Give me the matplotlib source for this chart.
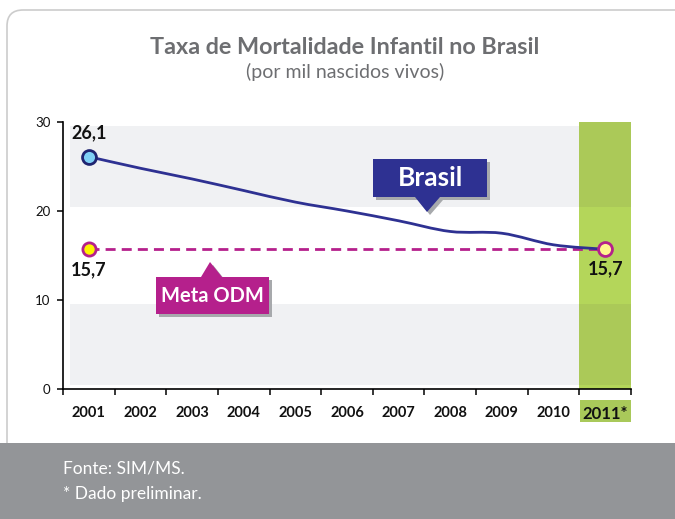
import matplotlib
matplotlib.use("Agg")
import matplotlib.pyplot as plt
from matplotlib.patches import Polygon, Rectangle, FancyBboxPatch, PathPatch
from matplotlib.path import Path
from matplotlib.transforms import Affine2D

# === Data ===
years = ["2001", "2002", "2003", "2004", "2005", "2006", "2007", "2008", "2009", "2010", "2011*"]
brasil = [26.1, 24.8, 23.6, 22.3, 21.0, 20.0, 18.9, 17.7, 17.5, 16.2, 15.7]
meta_odm = 15.7
y_ticks = [0, 10, 20, 30]

NAVY = "#2e3192"
MAGENTA = "#b5208c"
GREEN = "#b4d65a"
GREEN_DARK = "#abc958"
BAND = "#f0f1f3"

plt.rcParams["font.family"] = ["Lato", "DejaVu Sans"]

W, H = 675, 519
fig = plt.figure(figsize=(W / 100, H / 100), dpi=100)
fig.patch.set_facecolor("white")
# pixel coordinates (origin top-left) for decorations
px = Affine2D().scale(1 / W, -1 / H).translate(0, 1) + fig.transFigure

# === Frame and footer ===
frame = FancyBboxPatch((7, 10), 700, 460, boxstyle="round,pad=0,rounding_size=16",
                       transform=px, facecolor="white", edgecolor="#cccccc", lw=1.2, zorder=-2)
fig.add_artist(frame)
fig.add_artist(Rectangle((0, 443), W, 80, transform=px, facecolor="#939598",
                         edgecolor="none", zorder=-1))
fig.text(63 / W, 1 - 468 / H, "Fonte: SIM/MS.", color="white", fontsize=12.5, va="center")
fig.text(63 / W, 1 - 494 / H, "* Dado preliminar.", color="white", fontsize=12.5, va="center")

# === Title ===
fig.text(345 / W, 1 - 47 / H, "Taxa de Mortalidade Infantil no Brasil", ha="center", va="center",
         fontsize=16.8, fontweight="bold", color="#6d6e71")
fig.text(345 / W, 1 - 72 / H, "(por mil nascidos vivos)", ha="center", va="center",
         fontsize=14, color="#6d6e71")

# === Axes ===
ax = fig.add_axes([63 / W, 1 - 389 / H, 568 / W, 267 / H])
ax.set_facecolor("none")
n = len(years)
ax.set_xlim(-0.5, n - 0.5)
ax.set_ylim(0, 30)

# background bands
ax.axhspan(0.4, 9.6, xmin=0.012, xmax=(n - 1) / n, color=BAND, lw=0, zorder=0)
ax.axhspan(20.4, 29.6, xmin=0.012, xmax=(n - 1) / n, color=BAND, lw=0, zorder=0)
# highlighted last year
ax.axvspan(n - 1.5, n - 0.5, color=GREEN, lw=0, zorder=0.5)
ax.axvspan(n - 1.5, n - 0.5, ymin=0.4 / 30, ymax=9.6 / 30, color=GREEN_DARK, lw=0, zorder=0.6)
ax.axvspan(n - 1.5, n - 0.5, ymin=20.4 / 30, ymax=1, color=GREEN_DARK, lw=0, zorder=0.6)

# Meta ODM dashed line
xs = list(range(n))
ax.plot([xs[0], xs[-1]], [meta_odm, meta_odm], color=MAGENTA, lw=2, dashes=(3.6, 2.2), zorder=2)

# Brasil smoothed line (bezier through the data points)
verts = [(xs[0], brasil[0])]
codes = [Path.MOVETO]
for i in range(n - 1):
    p0 = (xs[max(i - 1, 0)], brasil[max(i - 1, 0)])
    p1 = (xs[i], brasil[i])
    p2 = (xs[i + 1], brasil[i + 1])
    p3 = (xs[min(i + 2, n - 1)], brasil[min(i + 2, n - 1)])
    c1 = (p1[0] + (p2[0] - p0[0]) / 6, p1[1] + (p2[1] - p0[1]) / 6)
    c2 = (p2[0] - (p3[0] - p1[0]) / 6, p2[1] - (p3[1] - p1[1]) / 6)
    verts += [c1, c2, p2]
    codes += [Path.CURVE4] * 3
ax.add_patch(PathPatch(Path(verts, codes), facecolor="none", edgecolor=NAVY, lw=2, zorder=3))

# markers
ax.plot(xs[0], brasil[0], "o", ms=10, mfc="#7fd0f5", mec="#1f2470", mew=2, zorder=4)
ax.plot(xs[0], meta_odm, "o", ms=9.5, mfc="#fff200", mec=MAGENTA, mew=2, zorder=4)
ax.plot(xs[-1], meta_odm, "o", ms=10, mfc="#fff68f", mec=MAGENTA, mew=2, zorder=4)

# value labels
fmt = lambda v: f"{v:.1f}".replace(".", ",")
ax.annotate(fmt(brasil[0]), (xs[0], brasil[0]), xytext=(0, 17), textcoords="offset points",
            ha="center", va="center", fontsize=13, fontweight="bold", color="#111111")
ax.annotate(fmt(meta_odm), (xs[0], meta_odm), xytext=(0, -15), textcoords="offset points",
            ha="center", va="center", fontsize=13, fontweight="bold", color="#111111")
ax.annotate(fmt(brasil[-1]), (xs[-1], brasil[-1]), xytext=(0, -14), textcoords="offset points",
            ha="center", va="center", fontsize=13, fontweight="bold", color="#111111")

# ticks
ax.set_xticks([i - 0.5 for i in range(n + 1)])
ax.set_xticklabels([])
ax.set_xticks(xs, minor=True)
ax.set_xticklabels(years, minor=True, fontsize=10.5, fontweight="bold", color="#111111")
ax.tick_params(axis="x", which="major", length=4, width=1.1, direction="out")
ax.tick_params(axis="x", which="minor", length=0, pad=12)
ax.set_yticks(y_ticks)
ax.set_yticklabels([str(t) for t in y_ticks], fontsize=9.5, color="#111111")
ax.tick_params(axis="y", length=4, width=1.1, pad=5)
for s in ["top", "right"]:
    ax.spines[s].set_visible(False)
for s in ["left", "bottom"]:
    ax.spines[s].set_linewidth(1.2)
    ax.spines[s].set_zorder(5)
ax.get_xticklabels(minor=True)[-1].set_fontsize(12)

# green box behind 2011* label
fig.add_artist(Rectangle((580, 400), 51, 22, transform=px, facecolor="#a9c95a",
                         edgecolor="none", zorder=-0.5))

# === Callouts ===
brasil_shape = [(373, 159), (487, 159), (487, 197), (440, 197), (427, 212), (415, 197), (373, 197)]
meta_shape = [(156, 277), (201, 277), (210, 262), (222, 277), (269, 277), (269, 314), (156, 314)]
for shape, color in [(brasil_shape, NAVY), (meta_shape, MAGENTA)]:
    shadow = [(x + 3, y + 3) for x, y in shape]
    fig.add_artist(Polygon(shadow, closed=True, transform=px, facecolor="#a7a9ac",
                           edgecolor="none", zorder=6))
    fig.add_artist(Polygon(shape, closed=True, transform=px, facecolor=color,
                           edgecolor="none", zorder=7))
fig.text(430 / W, 1 - 178 / H, "Brasil", ha="center", va="center", fontsize=19,
         fontweight="bold", color="white", zorder=8)
fig.text(212 / W, 1 - 296 / H, "Meta ODM", ha="center", va="center", fontsize=14.5,
         fontweight="bold", color="white", zorder=8)

fig.savefig("out.png", dpi=100)
